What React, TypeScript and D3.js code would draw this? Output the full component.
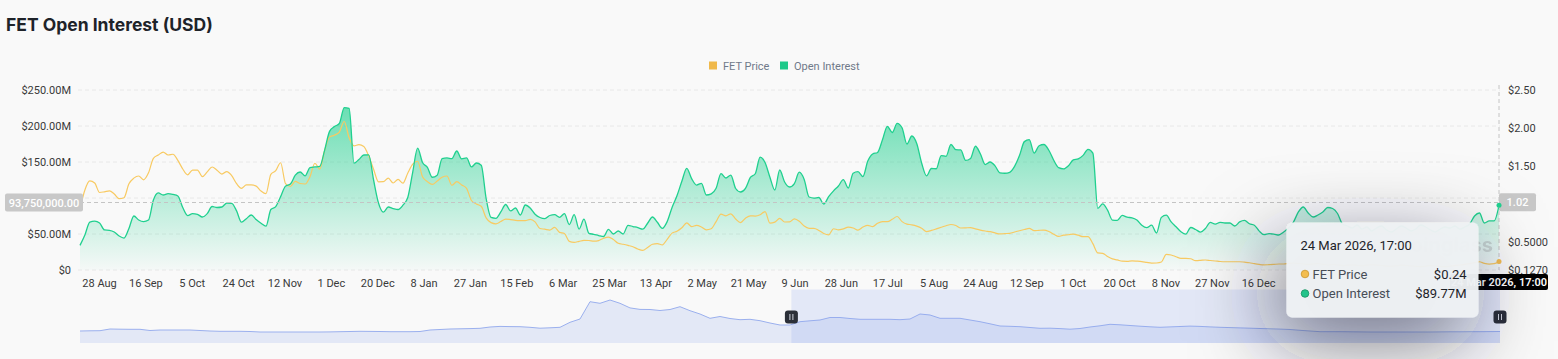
import React, { useEffect, useRef } from 'react';
import * as d3 from 'd3';

const W = 1558;
const H = 359;
const FONT = 'Roboto, "Noto Sans", sans-serif';
const TITLE_FONT = 'Inter, "Noto Sans", sans-serif';

// time span of the main view and of the overview strip
const seriesStart = new Date(2024, 7, 20, 5);
const seriesEnd = new Date(2026, 2, 24, 17);
const overviewStart = new Date(2023, 0, 14, 10);

// visible date labels (later ones sit under the tooltip)
const tickDates = [
  '2024-08-28', '2024-09-16', '2024-10-05', '2024-10-24', '2024-11-12', '2024-12-01',
  '2024-12-20', '2025-01-08', '2025-01-27', '2025-02-15', '2025-03-06', '2025-03-25',
  '2025-04-13', '2025-05-02', '2025-05-21', '2025-06-09', '2025-06-28', '2025-07-17',
  '2025-08-05', '2025-08-24', '2025-09-12', '2025-10-01', '2025-10-20', '2025-11-08',
  '2025-11-27', '2025-12-16',
];
const oiGrid = [0, 50, 100, 150, 200, 250];
const oiTicks = [0, 50, 150, 200, 250]; // 100 is covered by the crosshair tag
const priceTicks = [0.127, 0.5, 1.5, 2, 2.5]; // 1.00 is covered by the crosshair tag

// open interest, $M (one point every ~2 days)
const openInterest = [
  34.2, 48.6, 66.4, 67.8, 65.3, 55.6, 55.1, 52.8, 47.2, 44.4,
  57.6, 75.0, 69.4, 67.2, 69.4, 97.2, 107.0, 104.2, 106.0, 104.9,
  102.8, 86.7, 75.6, 78.2, 77.4, 73.6, 78.3, 88.2, 86.8, 87.5,
  93.0, 92.5, 82.1, 66.4, 71.3, 76.4, 70.1, 64.9, 60.8, 84.0,
  88.1, 101.9, 116.5, 119.4, 131.7, 136.1, 130.7, 142.1, 143.1, 143.9,
  166.4, 192.6, 199.2, 203.5, 225.6, 224.6, 148.3, 153.5, 159.7, 160.0,
  125.0, 93.0, 80.3, 87.5, 85.4, 84.0, 90.0, 101.0, 136.1, 169.2,
  149.3, 142.5, 128.8, 131.7, 154.6, 155.6, 154.7, 165.3, 154.4, 155.6,
  143.1, 148.6, 145.6, 99.3, 73.0, 71.8, 80.6, 91.0, 82.0, 86.1,
  76.4, 90.3, 86.1, 77.5, 72.9, 71.3, 75.7, 76.8, 73.2, 78.2,
  63.2, 76.8, 56.9, 70.6, 51.0, 49.6, 47.9, 46.5, 56.3, 50.0,
  54.2, 50.0, 62.1, 60.4, 58.9, 56.7, 64.9, 73.6, 66.3, 57.9,
  67.2, 86.9, 103.1, 123.2, 141.2, 126.9, 118.0, 120.4, 104.2, 105.8,
  113.5, 133.9, 127.8, 131.9, 113.2, 108.3, 113.3, 128.5, 133.7, 156.9,
  149.2, 128.9, 111.1, 138.9, 122.2, 115.3, 120.1, 135.8, 125.8, 101.4,
  99.9, 100.7, 91.7, 101.8, 109.9, 116.7, 125.4, 113.9, 134.3, 136.5,
  129.7, 151.3, 161.1, 163.3, 180.8, 199.6, 191.0, 203.6, 197.5, 175.0,
  186.1, 175.7, 148.6, 130.8, 141.0, 140.6, 158.9, 157.9, 174.3, 167.1,
  166.7, 152.2, 155.0, 171.9, 161.4, 146.4, 150.0, 144.7, 135.0, 134.4,
  135.7, 144.0, 158.9, 178.3, 181.0, 162.4, 172.5, 174.3, 166.3, 152.4,
  142.1, 140.4, 144.7, 153.0, 154.4, 159.2, 167.6, 162.4, 85.7, 91.8,
  83.1, 69.3, 69.0, 75.8, 73.3, 72.5, 69.3, 62.2, 58.9, 62.2,
  51.4, 73.1, 76.1, 66.8, 60.0, 53.2, 49.9, 59.0, 56.3, 52.6,
  57.6, 66.1, 63.7, 66.2, 65.3, 65.3, 61.1, 66.8, 68.9, 64.2,
  62.2, 54.0, 49.0, 50.4, 49.9, 48.6, 52.9, 58.3, 66.7, 80.6,
  87.5, 79.2, 73.6, 76.4, 80.6, 86.8, 85.4, 78.5, 63.9, 61.1,
  58.3, 62.5, 56.9, 59.7, 54.2, 58.3, 61.1, 55.6, 52.8, 56.9,
  61.1, 58.3, 54.2, 56.9, 62.5, 59.7, 55.6, 52.8, 56.9, 59.7,
  58.3, 61.1, 56.9, 59.7, 63.9, 75.0, 79.2, 65.3, 68.1, 68.1, 89.77,
];

// FET price, $
const fetPrice = [
  0.931, 1.182, 1.301, 1.274, 1.149, 1.158, 1.171, 1.129, 1.067, 1.08,
  1.263, 1.338, 1.366, 1.316, 1.408, 1.6, 1.643, 1.681, 1.643, 1.653,
  1.572, 1.458, 1.381, 1.445, 1.445, 1.358, 1.421, 1.485, 1.443, 1.391,
  1.425, 1.371, 1.265, 1.204, 1.248, 1.248, 1.233, 1.168, 1.134, 1.387,
  1.436, 1.541, 1.266, 1.228, 1.296, 1.267, 1.261, 1.357, 1.534, 1.458,
  1.705, 1.879, 1.904, 1.946, 2.085, 1.871, 1.764, 1.78, 1.756, 1.63,
  1.455, 1.29, 1.292, 1.337, 1.274, 1.321, 1.272, 1.407, 1.523, 1.561,
  1.356, 1.292, 1.255, 1.299, 1.349, 1.366, 1.244, 1.291, 1.248, 1.204,
  1.043, 0.998, 0.967, 0.814, 0.752, 0.736, 0.766, 0.798, 0.791, 0.782,
  0.778, 0.777, 0.794, 0.761, 0.674, 0.665, 0.654, 0.689, 0.623, 0.608,
  0.505, 0.492, 0.505, 0.517, 0.516, 0.507, 0.515, 0.545, 0.561, 0.529,
  0.479, 0.466, 0.451, 0.434, 0.404, 0.385, 0.424, 0.466, 0.476, 0.458,
  0.532, 0.613, 0.638, 0.683, 0.749, 0.698, 0.715, 0.694, 0.656, 0.67,
  0.765, 0.864, 0.841, 0.868, 0.799, 0.752, 0.809, 0.841, 0.838, 0.856,
  0.897, 0.744, 0.758, 0.807, 0.76, 0.761, 0.802, 0.77, 0.706, 0.677,
  0.677, 0.649, 0.608, 0.59, 0.671, 0.657, 0.67, 0.691, 0.681, 0.654,
  0.693, 0.715, 0.699, 0.743, 0.764, 0.764, 0.795, 0.832, 0.765, 0.732,
  0.723, 0.706, 0.678, 0.633, 0.649, 0.669, 0.69, 0.71, 0.727, 0.714,
  0.681, 0.683, 0.686, 0.669, 0.653, 0.641, 0.632, 0.616, 0.602, 0.607,
  0.611, 0.628, 0.645, 0.661, 0.675, 0.645, 0.65, 0.653, 0.635, 0.598,
  0.569, 0.586, 0.592, 0.6, 0.586, 0.566, 0.566, 0.474, 0.352, 0.347,
  0.305, 0.273, 0.26, 0.243, 0.242, 0.248, 0.244, 0.238, 0.227, 0.217,
  0.219, 0.232, 0.333, 0.325, 0.302, 0.281, 0.281, 0.275, 0.251, 0.254,
  0.259, 0.252, 0.246, 0.239, 0.236, 0.236, 0.236, 0.236, 0.23, 0.223,
  0.21, 0.2, 0.194, 0.197, 0.201, 0.206, 0.206, 0.213, 0.219, 0.213,
  0.206, 0.2, 0.206, 0.213, 0.2, 0.193, 0.2, 0.193, 0.186, 0.19,
  0.195, 0.188, 0.183, 0.19, 0.197, 0.192, 0.186, 0.18, 0.176, 0.183,
  0.19, 0.186, 0.18, 0.176, 0.172, 0.178, 0.184, 0.18, 0.175, 0.172,
  0.178, 0.186, 0.193, 0.2, 0.21, 0.225, 0.236, 0.215, 0.205, 0.21, 0.24,
];

// full-history overview strip under the chart
const overviewValues = [
  60, 61, 61.5, 70, 69, 68.5, 68.5, 62.5, 65, 65,
  65, 65, 62.5, 60, 58.5, 58.5, 58.5, 57.5, 55, 55,
  55, 55, 55, 55, 55, 55.5, 56.5, 57.5, 58.5, 58,
  57.5, 56.5, 56.5, 56.5, 57.5, 65, 67.5, 70, 71, 72,
  73.5, 80, 83, 82, 81.5, 78.5, 74, 76, 78.5, 103.5,
  120, 206.5, 198.5, 215, 198.5, 175.5, 168, 167.5, 162.5, 167.5,
  181.5, 161.5, 145, 123.5, 132.5, 122.5, 116.5, 118.5, 111.5, 100,
  90, 90, 106.5, 111, 115, 127.5, 127.5, 122.5, 118.5, 118.5,
  118.5, 118.5, 116.5, 120, 145, 140, 123.5, 123.5, 123.5, 115,
  106.5, 96, 85, 83.5, 81.5, 77.5, 73.5, 74, 72, 69,
  72.5, 80, 86, 93.5, 91, 87.5, 84, 81, 78.5, 80.5,
  82.5, 84.5, 83, 80.5, 78.5, 77, 75.5, 74, 72.5, 71,
  69.5, 67.5, 63.5, 60, 56.5, 56.5, 56.5, 56, 55.5, 55,
  55, 55, 55, 55, 55, 55, 55.5, 56, 56, 56.5,
  56.5, 57, 57.5,
];

const crosshairOI = 93.75;
const crosshairPrice = 1.02;

const GREEN = '#20d08f';
const YELLOW = '#f8ca62';

export default function App() {
  const svgRef = useRef<SVGSVGElement>(null);

  useEffect(() => {
    const svg = d3.select(svgRef.current);
    svg.selectAll('*').remove();

    const x = d3.scaleTime().domain([seriesStart, seriesEnd]).range([80, 1499]);
    const yOI = d3.scaleLinear().domain([0, 250]).range([270, 90]);
    const yPrice = d3.scaleLinear().domain([0.127, 2.5]).range([270, 90]);

    const step = (+seriesEnd - +seriesStart) / (openInterest.length - 1);
    const dates = openInterest.map((_, i) => new Date(+seriesStart + i * step));

    svg.append('rect').attr('width', W).attr('height', H).attr('fill', '#f9f9f9');

    const defs = svg.append('defs');
    const grad = defs
      .append('linearGradient')
      .attr('id', 'oiFill')
      .attr('gradientUnits', 'userSpaceOnUse')
      .attr('x1', 0)
      .attr('x2', 0)
      .attr('y1', yOI(d3.max(openInterest) as number))
      .attr('y2', yOI(0));
    grad.append('stop').attr('offset', 0).attr('stop-color', GREEN).attr('stop-opacity', 0.65);
    grad.append('stop').attr('offset', 1).attr('stop-color', GREEN).attr('stop-opacity', 0.02);

    const shadow = defs
      .append('filter')
      .attr('id', 'tipShadow')
      .attr('x', '-100%')
      .attr('y', '-100%')
      .attr('width', '300%')
      .attr('height', '300%');
    shadow
      .append('feDropShadow')
      .attr('dx', -12)
      .attr('dy', 24)
      .attr('stdDeviation', 40)
      .attr('flood-color', '#1b2233')
      .attr('flood-opacity', 0.6);

    // Title
    svg
      .append('text')
      .attr('x', 6)
      .attr('y', 31)
      .text('FET Open Interest (USD)')
      .style('font-family', TITLE_FONT)
      .style('font-size', '17.5px')
      .style('font-weight', 700)
      .attr('fill', '#1e2329');

    // Legend
    const legend = [
      { label: 'FET Price', color: '#f0b94b', x: 709 },
      { label: 'Open Interest', color: '#1ec98a', x: 780 },
    ];
    legend.forEach((l) => {
      svg.append('rect').attr('x', l.x).attr('y', 61.5).attr('width', 8).attr('height', 8).attr('fill', l.color);
      svg
        .append('text')
        .attr('x', l.x + 14)
        .attr('y', 69.5)
        .text(l.label)
        .style('font-family', FONT)
        .style('font-size', '11px')
        .attr('fill', '#707a8a');
    });

    // Grid lines
    svg
      .selectAll('.grid')
      .data(oiGrid)
      .join('line')
      .attr('class', 'grid')
      .attr('x1', 78)
      .attr('x2', 1500)
      .attr('y1', (d) => yOI(d))
      .attr('y2', (d) => yOI(d))
      .attr('stroke', '#e8e8e8')
      .attr('stroke-dasharray', '4,3');

    // Open interest area + lines
    const area = d3
      .area<number>()
      .x((_, i) => x(dates[i]))
      .y0(yOI(0))
      .y1((d) => yOI(d))
      .curve(d3.curveMonotoneX);
    const oiLine = d3
      .line<number>()
      .x((_, i) => x(dates[i]))
      .y((d) => yOI(d))
      .curve(d3.curveMonotoneX);
    const priceLine = d3
      .line<number>()
      .x((_, i) => x(dates[i]))
      .y((d) => yPrice(d))
      .curve(d3.curveMonotoneX);

    svg.append('path').datum(openInterest).attr('d', area).attr('fill', 'url(#oiFill)');
    svg
      .append('path')
      .datum(fetPrice)
      .attr('d', priceLine)
      .attr('fill', 'none')
      .attr('stroke', YELLOW)
      .attr('stroke-width', 1.2);
    svg
      .append('path')
      .datum(openInterest)
      .attr('d', oiLine)
      .attr('fill', 'none')
      .attr('stroke', GREEN)
      .attr('stroke-width', 1.3);

    // watermark
    svg
      .append('text')
      .attr('x', 1493)
      .attr('y', 252)
      .attr('text-anchor', 'end')
      .text('coinglass')
      .style('font-family', TITLE_FONT)
      .style('font-size', '20px')
      .style('font-weight', 700)
      .attr('fill', '#9a9a9a')
      .attr('opacity', 0.35);

    // Axes
    const styleAxis = (g: any) => {
      g.select('.domain').remove();
      g.selectAll('text')
        .style('font-family', FONT)
        .style('font-size', '11px')
        .attr('fill', '#3a3a3a');
    };
    svg
      .append('g')
      .attr('transform', 'translate(80,0)')
      .call(
        d3
          .axisLeft(yOI)
          .tickValues(oiTicks)
          .tickSize(0)
          .tickPadding(9)
          .tickFormat((d: any) => (d === 0 ? '$0' : `$${(+d).toFixed(2)}M`))
      )
      .call(styleAxis);
    svg
      .append('g')
      .attr('transform', 'translate(1499,0)')
      .call(
        d3
          .axisRight(yPrice)
          .tickValues(priceTicks)
          .tickSize(0)
          .tickPadding(9)
          .tickFormat((d: any) => (d < 1 ? `$${(+d).toFixed(4)}` : `$${(+d).toFixed(2)}`))
      )
      .call(styleAxis);
    const parse = d3.timeParse('%Y-%m-%d');
    svg
      .append('g')
      .attr('transform', 'translate(0,270)')
      .call(
        d3
          .axisBottom(x)
          .tickValues(tickDates.map((t) => parse(t) as Date))
          .tickSize(0)
          .tickPadding(9)
          .tickFormat((d: any) => d3.timeFormat('%-d %b')(d))
      )
      .call(styleAxis);

    // Crosshair
    const cy = yOI(crosshairOI);
    const cx = x(seriesEnd);
    svg
      .append('line')
      .attr('x1', 80)
      .attr('x2', 1500)
      .attr('y1', cy)
      .attr('y2', cy)
      .attr('stroke', '#c4c4c4')
      .attr('stroke-dasharray', '4,3');
    svg
      .append('line')
      .attr('x1', cx)
      .attr('x2', cx)
      .attr('y1', 85)
      .attr('y2', 270)
      .attr('stroke', '#c4c4c4')
      .attr('stroke-dasharray', '4,3');

    const tag = (x0: number, w: number, y0: number, h: number, label: string, bg: string, weight: number) => {
      svg.append('rect').attr('x', x0).attr('y', y0).attr('width', w).attr('height', h).attr('rx', 2).attr('fill', bg);
      svg
        .append('text')
        .attr('x', x0 + w / 2)
        .attr('y', y0 + h / 2 + 4)
        .attr('text-anchor', 'middle')
        .text(label)
        .style('font-family', FONT)
        .style('font-size', '11px')
        .style('font-weight', weight)
        .attr('fill', '#ffffff');
    };
    tag(5, 78, cy - 9, 18, d3.format(',.2f')(crosshairOI * 1e6), '#c8c8c8', 500);
    tag(cx, 37, yPrice(crosshairPrice) - 9, 18, crosshairPrice.toFixed(2), '#c8c8c8', 500);

    // end points
    const last = openInterest.length - 1;
    svg.append('circle').attr('cx', cx).attr('cy', yOI(openInterest[last])).attr('r', 2.5).attr('fill', GREEN);
    svg.append('circle').attr('cx', cx).attr('cy', yPrice(fetPrice[last])).attr('r', 2.5).attr('fill', '#f3bd4f');

    // Overview strip
    const ox = d3.scaleTime().domain([overviewStart, seriesEnd]).range([80, 1500]);
    const oy = d3.scaleLinear().domain([0, 260]).range([343, 291]);
    const ostep = (+seriesEnd - +overviewStart) / (overviewValues.length - 1);
    const odates = overviewValues.map((_, i) => new Date(+overviewStart + i * ostep));
    svg
      .append('path')
      .datum(overviewValues)
      .attr(
        'd',
        d3
          .area<number>()
          .x((_, i) => ox(odates[i]))
          .y0(oy(0))
          .y1((d) => oy(d))
      )
      .attr('fill', '#8ea4ea')
      .attr('fill-opacity', 0.2);
    svg
      .append('path')
      .datum(overviewValues)
      .attr(
        'd',
        d3
          .line<number>()
          .x((_, i) => ox(odates[i]))
          .y((d) => oy(d))
      )
      .attr('fill', 'none')
      .attr('stroke', '#9bb0ee')
      .attr('stroke-width', 1);
    const bx0 = ox(seriesStart);
    const bx1 = ox(seriesEnd);
    svg
      .append('rect')
      .attr('x', bx0)
      .attr('y', 289.5)
      .attr('width', bx1 - bx0)
      .attr('height', 53.5)
      .attr('fill', '#8ea4f0')
      .attr('fill-opacity', 0.2);
    [bx0, bx1].forEach((hx) => {
      svg.append('rect').attr('x', hx - 6.5).attr('y', 310.5).attr('width', 13).attr('height', 13).attr('rx', 3).attr('fill', '#2b2f38');
      [-1.5, 1.5].forEach((o) => {
        svg
          .append('line')
          .attr('x1', hx + o)
          .attr('x2', hx + o)
          .attr('y1', 314)
          .attr('y2', 320)
          .attr('stroke', '#cfd3dc')
          .attr('stroke-width', 1);
      });
    });

    // bottom date tag
    tag(cx - 49, 98, 274, 16, d3.timeFormat('%-d %b %Y, %H:%M')(seriesEnd), '#000000', 600);

    // Tooltip
    const tip = svg.append('g');
    tip
      .append('rect')
      .attr('x', 1286.5)
      .attr('y', 222.5)
      .attr('width', 192)
      .attr('height', 95)
      .attr('rx', 6)
      .attr('fill', '#eef1f4')
      .attr('fill-opacity', 0.96)
      .attr('filter', 'url(#tipShadow)');
    tip
      .append('text')
      .attr('x', 1300.5)
      .attr('y', 250)
      .text(d3.timeFormat('%-d %b %Y, %H:%M')(seriesEnd))
      .style('font-family', FONT)
      .style('font-size', '13px')
      .attr('fill', '#1e2329');
    const rows = [
      { label: 'FET Price', value: `$${fetPrice[last].toFixed(2)}`, color: '#f3bd4f', stroke: '#c9962c' },
      { label: 'Open Interest', value: `$${openInterest[last].toFixed(2)}M`, color: '#22c38a', stroke: '#14915f' },
    ];
    rows.forEach((r, i) => {
      const ry = 274 + i * 19.5;
      tip.append('circle').attr('cx', 1305).attr('cy', ry).attr('r', 3.8).attr('fill', r.color).attr('stroke', r.stroke).attr('stroke-width', 0.8);
      tip
        .append('text')
        .attr('x', 1312.5)
        .attr('y', ry + 4.5)
        .text(r.label)
        .style('font-family', FONT)
        .style('font-size', '13px')
        .attr('fill', '#474d57');
      tip
        .append('text')
        .attr('x', 1466.5)
        .attr('y', ry + 4.5)
        .attr('text-anchor', 'end')
        .text(r.value)
        .style('font-family', FONT)
        .style('font-size', '13px')
        .attr('fill', '#1e2329');
    });
  }, []);

  return (
    <svg
      ref={svgRef}
      width={W}
      height={H}
      style={{ position: 'absolute', left: 0, top: 0, display: 'block' }}
    />
  );
}
